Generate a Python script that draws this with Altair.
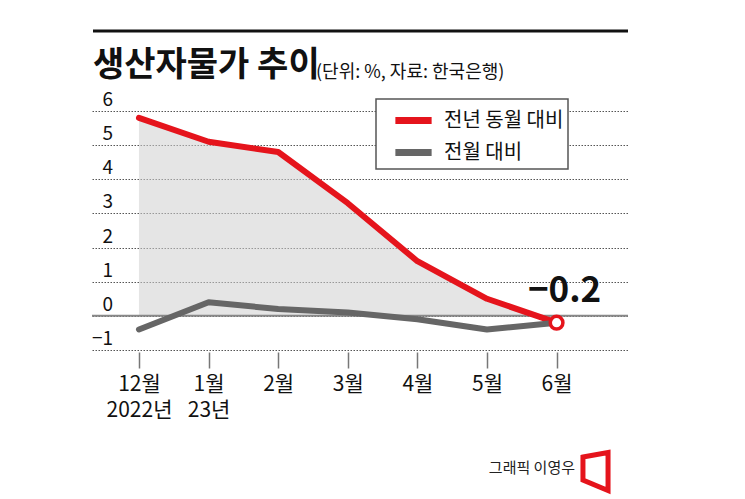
import json
import altair as alt
import pandas as pd

# ---- data ----
months = ["12월", "1월", "2월", "3월", "4월", "5월", "6월"]
years = ["2022년", "23년", "", "", "", "", ""]
yoy = [5.8, 5.1, 4.8, 3.3, 1.6, 0.5, -0.2]     # 전년 동월 대비
mom = [-0.4, 0.4, 0.2, 0.1, -0.1, -0.4, -0.2]  # 전월 대비
series = ["전년 동월 대비", "전월 대비"]
y_ticks = [-1, 0, 1, 2, 3, 4, 5, 6]

RED = "#e5141c"
GRAY = "#666666"
FONT = "Noto Sans CJK KR"

idx = list(range(len(months)))
long_df = pd.DataFrame(
    {
        "idx": idx + idx,
        "value": yoy + mom,
        "series": [series[0]] * len(idx) + [series[1]] * len(idx),
    }
)
yoy_df = pd.DataFrame({"idx": idx, "value": yoy})
last_df = pd.DataFrame(
    {"idx": [idx[-1]], "value": [yoy[-1]], "label": [f"{yoy[-1]}".replace("-", "−")]}
)
ytick_df = pd.DataFrame(
    {"value": y_ticks, "label": [str(v).replace("-", "−") for v in y_ticks]}
)

label_arr = [[m, y] if y else [m] for m, y in zip(months, years)]
label_expr = json.dumps(label_arr, ensure_ascii=False) + "[datum.value]"

x_scale = alt.Scale(domain=[-0.675, 7.026], nice=False, zero=False)
y_scale = alt.Scale(domain=[-1, 6], nice=False, zero=False)

x_axis = alt.Axis(
    values=idx,
    labelExpr=label_expr,
    title=None,
    grid=False,
    domain=False,
    ticks=True,
    tickSize=16,
    tickColor="#777",
    tickWidth=1.5,
    offset=2,
    labelPadding=5,
    labelFont=FONT,
    labelFontSize=21,
    labelColor="#111",
    labelLineHeight=26,
    labelBaseline="top",
)
y_axis = alt.Axis(
    values=y_ticks,
    title=None,
    grid=True,
    gridDash=[1.5, 1.5],
    gridColor="#555",
    gridWidth=1,
    labels=False,
    ticks=False,
    domain=False,
)

X = alt.X("idx:Q", scale=x_scale, axis=x_axis)
Y = alt.Y("value:Q", scale=y_scale, axis=y_axis)

area = (
    alt.Chart(yoy_df)
    .mark_area(color="#cfcfcf", opacity=0.55)
    .encode(x=X, y=Y, y2=alt.datum(0))
)

zero_rule = (
    alt.Chart(pd.DataFrame({"z": [0]}))
    .mark_rule(color="#888", strokeWidth=2)
    .encode(y=alt.Y("z:Q", scale=y_scale, axis=y_axis))
)

ylabels = (
    alt.Chart(ytick_df)
    .mark_text(align="right", baseline="alphabetic", dy=-5, font=FONT, fontSize=19, color="#111")
    .encode(y=Y, x=alt.value(21), text="label:N")
)

one = pd.DataFrame({"a": [0]})
legend_box = alt.Chart(one).mark_rect(fill="white", stroke="#555", strokeWidth=1.5).encode(
    x=alt.value(284), x2=alt.value(476), y=alt.value(-12), y2=alt.value(58)
)

lines = (
    alt.Chart(long_df)
    .mark_line(strokeWidth=6, strokeCap="round", strokeJoin="round")
    .encode(
        x=X,
        y=Y,
        color=alt.Color(
            "series:N",
            scale=alt.Scale(domain=series, range=[RED, GRAY]),
            sort=series,
            legend=alt.Legend(
                orient="none",
                legendX=303.5,
                legendY=-8.5,
                title=None,
                symbolType="M-1.25,0L1.25,0",
                symbolStrokeWidth=7,
                symbolSize=841,
                labelFont=FONT,
                labelFontSize=20,
                labelColor="#111",
                labelOffset=12.5,
                rowPadding=0,
                padding=0,
            ),
        ),
        order="idx:Q",
    )
)

end_point = (
    alt.Chart(last_df)
    .mark_point(shape="circle", filled=True, fill="white", stroke=RED, strokeWidth=3.5, size=160, opacity=1)
    .encode(x=X, y=Y)
)
end_label = (
    alt.Chart(last_df)
    .mark_text(align="center", baseline="alphabetic", dx=8, dy=-21, font=FONT, fontSize=35, fontWeight="bold", color="#111")
    .encode(x=X, y=Y, text="label:N")
)

top_rule = alt.Chart(one).mark_rule(color="#111", strokeWidth=3).encode(
    x=alt.value(1), x2=alt.value(536), y=alt.value(-80)
)
title = alt.Chart(one).mark_text(
    text="생산자물가 추이", align="left", baseline="alphabetic", font=FONT, fontSize=34, fontWeight="bold", color="#111"
).encode(x=alt.value(1), y=alt.value(-35))
subtitle = alt.Chart(one).mark_text(
    text="(단위: %, 자료: 한국은행)", align="left", baseline="alphabetic", font=FONT, fontSize=18, color="#111"
).encode(x=alt.value(224), y=alt.value(-33))
credit = alt.Chart(one).mark_text(
    text="그래픽 이영우", align="right", baseline="middle", font=FONT, fontSize=15, color="#222"
).encode(x=alt.value(483), y=alt.value(357))
logo = alt.Chart(one).mark_point(
    shape="M-0.66,-0.76L0.66,-1L0.66,1L-0.66,0.45Z",
    filled=False,
    stroke=RED,
    strokeWidth=5,
    size=1444,
    opacity=1,
).encode(x=alt.value(503.5), y=alt.value(360.5))

chart = (
    alt.layer(area, zero_rule, ylabels, legend_box, lines, end_point, end_label, top_rule, title, subtitle, credit, logo)
    .properties(
        width=536,
        height=239,
        autosize=alt.AutoSizeParams(type="none"),
        padding={"left": 84, "top": 103, "right": 100, "bottom": 146},
    )
    .configure_view(stroke=None)
)

chart.save("out.html", embed_options={"renderer": "svg", "actions": False})
